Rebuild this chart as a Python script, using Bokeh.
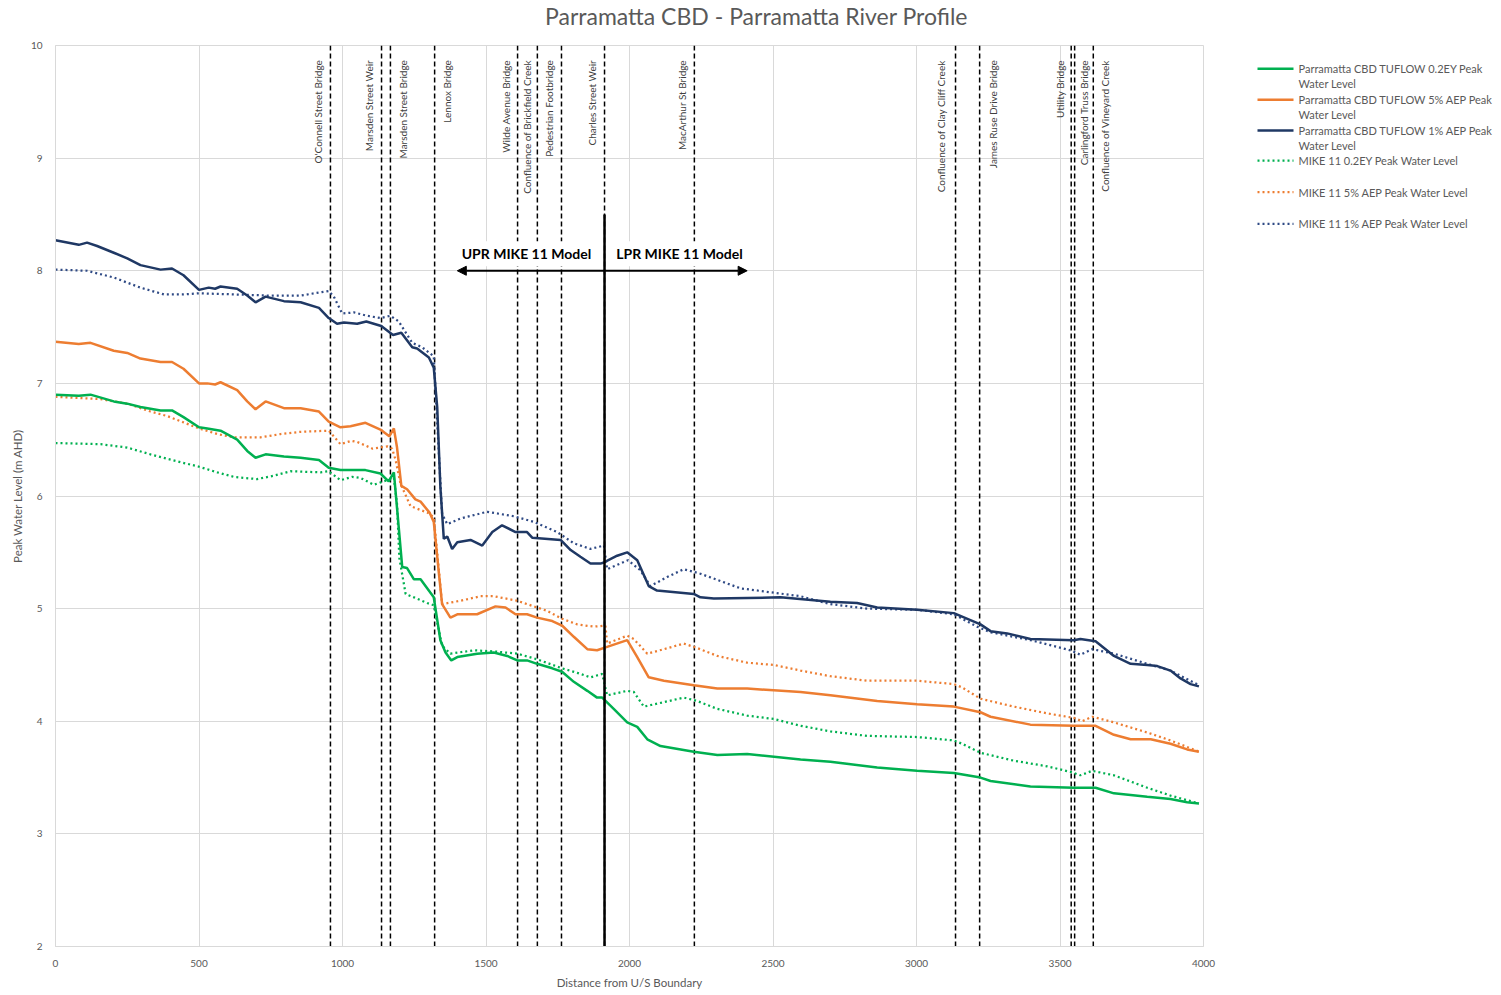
import math
import textwrap
from bokeh.plotting import figure
from bokeh.models import Range1d, FixedTicker, ColumnDataSource, Arrow, NormalHead
from bokeh.layouts import row, column
from bokeh.embed import file_html
from bokeh.resources import INLINE
from bokeh.core.properties import value

# ---------------- data ----------------
title_text = "Parramatta CBD - Parramatta River Profile"
x_label = "Distance from U/S Boundary"
y_label = "Peak Water Level (m AHD)"
x_ticks = [0, 500, 1000, 1500, 2000, 2500, 3000, 3500, 4000]
y_ticks = [2, 3, 4, 5, 6, 7, 8, 9, 10]

series_names = [
    "Parramatta CBD TUFLOW 0.2EY Peak Water Level",
    "Parramatta CBD TUFLOW 5% AEP Peak Water Level",
    "Parramatta CBD TUFLOW 1% AEP Peak Water Level",
    "MIKE 11 0.2EY Peak Water Level",
    "MIKE 11 5% AEP Peak Water Level",
    "MIKE 11 1% AEP Peak Water Level",
]

tuflow_1_x = [0, 81, 110, 145, 203, 250, 296, 366, 406, 446, 500, 534, 556, 575, 633, 668, 697, 732, 796, 854,
              918, 952, 981, 1005, 1051, 1083, 1135, 1176, 1205, 1243, 1260, 1301, 1318, 1330, 1341, 1353, 1365,
              1382, 1400, 1446, 1487, 1522, 1556, 1603, 1643, 1661, 1760, 1795, 1829, 1864, 1899, 1911, 1957,
              1992, 2027, 2067, 2096, 2224, 2247, 2294, 2526, 2700, 2793, 2863, 3002, 3130, 3223, 3258, 3316,
              3397, 3548, 3571, 3624, 3688, 3746, 3804, 3839, 3885, 3920, 3955, 3984]
tuflow_1_y = [8.27, 8.23, 8.25, 8.22, 8.16, 8.11, 8.05, 8.01, 8.02, 7.96, 7.83, 7.85, 7.84, 7.86, 7.84, 7.78,
              7.72, 7.77, 7.73, 7.72, 7.67, 7.58, 7.53, 7.54, 7.53, 7.55, 7.51, 7.43, 7.45, 7.32, 7.31, 7.23,
              7.14, 6.79, 6.08, 5.62, 5.64, 5.53, 5.59, 5.61, 5.56, 5.68, 5.74, 5.68, 5.68, 5.63, 5.61, 5.52,
              5.46, 5.40, 5.40, 5.41, 5.47, 5.50, 5.43, 5.20, 5.16, 5.13, 5.10, 5.09, 5.10, 5.06, 5.05, 5.01,
              4.99, 4.96, 4.86, 4.80, 4.78, 4.73, 4.72, 4.73, 4.71, 4.58, 4.51, 4.50, 4.49, 4.45, 4.38, 4.33, 4.31]

tuflow_5_x = [0, 81, 122, 203, 250, 296, 366, 406, 446, 500, 529, 556, 575, 633, 668, 697, 732, 796, 854, 918,
              952, 993, 1028, 1080, 1132, 1163, 1179, 1190, 1205, 1225, 1254, 1272, 1304, 1318, 1336, 1347,
              1376, 1400, 1469, 1533, 1568, 1603, 1643, 1678, 1731, 1765, 1806, 1853, 1887, 1922, 1992, 2027,
              2067, 2120, 2224, 2306, 2410, 2596, 2700, 2863, 3002, 3130, 3223, 3258, 3397, 3548, 3624, 3688,
              3746, 3816, 3885, 3943, 3984]
tuflow_5_y = [7.37, 7.35, 7.36, 7.29, 7.27, 7.22, 7.19, 7.19, 7.13, 7.00, 7.00, 6.99, 7.01, 6.94, 6.84, 6.77,
              6.84, 6.78, 6.78, 6.75, 6.66, 6.61, 6.62, 6.65, 6.59, 6.53, 6.60, 6.43, 6.09, 6.06, 5.97, 5.95,
              5.85, 5.77, 5.31, 5.04, 4.92, 4.95, 4.95, 5.02, 5.01, 4.95, 4.95, 4.92, 4.89, 4.85, 4.75, 4.64,
              4.63, 4.66, 4.72, 4.57, 4.39, 4.36, 4.32, 4.29, 4.29, 4.26, 4.23, 4.18, 4.15, 4.13, 4.08, 4.04,
              3.97, 3.96, 3.96, 3.88, 3.84, 3.84, 3.80, 3.75, 3.73]

tuflow_02_x = [0, 81, 122, 203, 250, 296, 366, 406, 446, 500, 529, 575, 633, 668, 697, 732, 796, 854, 918, 952,
               993, 1028, 1080, 1132, 1161, 1179, 1196, 1208, 1225, 1249, 1272, 1295, 1318, 1341, 1359, 1379,
               1400, 1469, 1527, 1574, 1609, 1643, 1678, 1731, 1765, 1806, 1853, 1887, 1905, 1945, 1992, 2027,
               2062, 2108, 2224, 2306, 2410, 2596, 2700, 2863, 3002, 3130, 3223, 3258, 3397, 3548, 3624, 3688,
               3804, 3885, 3943, 3984]
tuflow_02_y = [6.90, 6.89, 6.90, 6.84, 6.82, 6.79, 6.76, 6.76, 6.70, 6.61, 6.60, 6.58, 6.50, 6.40, 6.34, 6.37,
               6.35, 6.34, 6.32, 6.25, 6.23, 6.23, 6.23, 6.20, 6.13, 6.21, 5.72, 5.37, 5.36, 5.26, 5.26, 5.18,
               5.10, 4.72, 4.61, 4.54, 4.57, 4.60, 4.61, 4.58, 4.54, 4.54, 4.51, 4.47, 4.44, 4.35, 4.27, 4.21,
               4.21, 4.11, 3.99, 3.95, 3.84, 3.78, 3.73, 3.70, 3.71, 3.66, 3.64, 3.59, 3.56, 3.54, 3.50, 3.47,
               3.42, 3.41, 3.41, 3.36, 3.33, 3.31, 3.28, 3.27]

mike_1_x = [0, 110, 203, 296, 378, 446, 500, 621, 737, 854, 952, 970, 999, 1040, 1086, 1132, 1167, 1196, 1243,
            1278, 1318, 1336, 1347, 1365, 1411, 1504, 1597, 1667, 1748, 1806, 1864, 1911, 1922, 1995, 2038,
            2073, 2131, 2189, 2247, 2387, 2596, 2700, 2828, 3002, 3130, 3211, 3258, 3397, 3537, 3571, 3612,
            3688, 3804, 3885, 3984]
mike_1_y = [8.01, 8.00, 7.94, 7.85, 7.79, 7.79, 7.80, 7.79, 7.78, 7.78, 7.82, 7.77, 7.62, 7.63, 7.60, 7.58,
            7.60, 7.55, 7.36, 7.32, 7.24, 6.37, 5.84, 5.75, 5.80, 5.86, 5.82, 5.77, 5.68, 5.58, 5.53, 5.56,
            5.35, 5.43, 5.34, 5.20, 5.28, 5.35, 5.31, 5.18, 5.11, 5.04, 5.00, 4.99, 4.95, 4.84, 4.79, 4.72,
            4.63, 4.59, 4.64, 4.60, 4.51, 4.45, 4.32]

mike_5_x = [0, 157, 250, 331, 389, 500, 564, 621, 714, 784, 854, 952, 993, 1031, 1051, 1105, 1158, 1173, 1185,
            1202, 1237, 1298, 1318, 1336, 1347, 1411, 1481, 1527, 1609, 1678, 1713, 1765, 1818, 1876, 1916,
            1922, 1992, 2015, 2062, 2120, 2189, 2236, 2306, 2410, 2503, 2596, 2700, 2828, 3002, 3130, 3159,
            3223, 3339, 3455, 3548, 3577, 3612, 3688, 3804, 3885, 3984]
mike_5_y = [6.88, 6.86, 6.82, 6.75, 6.71, 6.60, 6.55, 6.52, 6.52, 6.55, 6.57, 6.58, 6.46, 6.49, 6.48, 6.42,
            6.44, 6.42, 6.32, 6.11, 5.91, 5.85, 5.81, 5.34, 5.04, 5.07, 5.11, 5.11, 5.07, 5.01, 4.98, 4.91,
            4.86, 4.84, 4.85, 4.69, 4.76, 4.73, 4.60, 4.64, 4.69, 4.65, 4.58, 4.52, 4.50, 4.45, 4.40, 4.36,
            4.36, 4.33, 4.30, 4.20, 4.13, 4.07, 4.03, 4.00, 4.04, 3.99, 3.90, 3.83, 3.73]

mike_02_x = [0, 157, 250, 331, 389, 500, 564, 621, 702, 760, 819, 923, 952, 993, 1034, 1063, 1109, 1155, 1179,
             1190, 1198, 1220, 1249, 1295, 1318, 1347, 1376, 1458, 1527, 1609, 1678, 1765, 1818, 1864, 1905,
             1922, 1992, 2015, 2050, 2120, 2189, 2236, 2306, 2410, 2503, 2596, 2700, 2828, 3002, 3130, 3159,
             3223, 3339, 3455, 3537, 3571, 3612, 3688, 3804, 3885, 3984]
mike_02_y = [6.47, 6.46, 6.43, 6.37, 6.33, 6.26, 6.21, 6.17, 6.15, 6.18, 6.22, 6.21, 6.22, 6.14, 6.17, 6.16,
             6.10, 6.14, 6.16, 5.93, 5.45, 5.13, 5.10, 5.05, 5.03, 4.67, 4.60, 4.63, 4.62, 4.60, 4.55, 4.47,
             4.43, 4.39, 4.42, 4.23, 4.27, 4.26, 4.13, 4.17, 4.21, 4.18, 4.11, 4.05, 4.02, 3.96, 3.91, 3.87,
             3.86, 3.83, 3.80, 3.72, 3.65, 3.60, 3.55, 3.52, 3.56, 3.52, 3.41, 3.34, 3.27]

structure_names = ["O'Connell Street Bridge", "Marsden Street Weir", "Marsden Street Bridge", "Lennox Bridge",
                   "Wilde Avenue Bridge", "Confluence of Brickfield Creek", "Pedestrian Footbridge",
                   "Charles Street Weir", "MacArthur St Bridge", "Confluence of Clay Cliff Creek",
                   "James Ruse Drive Bridge", "Utility Bridge", "Carlingford Truss Bridge",
                   "Confluence of Vineyard Creek"]
structure_x = [958, 1136, 1167, 1321, 1610, 1679, 1763, 1913, 2226, 3136, 3220, 3539, 3551, 3616]

model_boundary_x = 1913
model_boundary_top = 8.5
upr_text = "UPR MIKE 11 Model"
lpr_text = "LPR MIKE 11 Model"
upr_text_x = 1641
lpr_text_x = 2174
model_text_y = 8.15
arrow_x_start = 1400
arrow_x_end = 2410
arrow_y = 8.0

# ---------------- styles ----------------
FONT = "Lato"
GREY = "#595959"
GRID = "#D9D9D9"
GREEN = "#00B050"
ORANGE = "#ED7D31"
NAVY = "#1F3864"
NAVY_DOT = "#2F4A85"
label_offsets = [-12, -13, 13, 12, -12, -10, -12, -13, -12, -15, 13, -11, 9, 12]
label_top_y = 9.87
FRAME_W, FRAME_H = 1148, 901
LEFT, TOP, BOTTOM = 55, 8, 48
TITLE_H = 37
LEG_W = 270
RIGHT = 20

# ---------------- title strip ----------------
tfig = figure(x_range=Range1d(0, FRAME_W), y_range=Range1d(TITLE_H, 0),
              frame_width=FRAME_W, frame_height=TITLE_H,
              min_border_left=LEFT, min_border_right=RIGHT + LEG_W, min_border_top=0, min_border_bottom=0,
              x_axis_location=None, y_axis_location=None, output_backend="svg", toolbar_location=None)
tfig.grid.visible = False
tfig.outline_line_color = None
tfig.background_fill_color = "white"
tfig.border_fill_color = "white"
tfig.text(x=[701], y=[15], text=[title_text], text_align="center", text_baseline="middle",
          text_font=value(FONT), text_font_size="23px", text_color=GREY)

# ---------------- main chart ----------------
p = figure(x_range=Range1d(0, 4000), y_range=Range1d(2, 10),
           frame_width=FRAME_W, frame_height=FRAME_H,
           min_border_left=LEFT, min_border_right=RIGHT, min_border_top=TOP, min_border_bottom=BOTTOM,
           output_backend="svg", toolbar_location=None)
p.background_fill_color = "white"
p.border_fill_color = "white"
p.outline_line_color = GRID

p.xaxis.ticker = FixedTicker(ticks=x_ticks)
p.yaxis.ticker = FixedTicker(ticks=y_ticks)
p.xgrid.ticker = FixedTicker(ticks=x_ticks)
p.ygrid.ticker = FixedTicker(ticks=y_ticks)
p.grid.grid_line_color = GRID
p.grid.grid_line_width = 1
for ax in (p.xaxis[0], p.yaxis[0]):
    ax.axis_line_color = GRID
    ax.major_tick_line_color = None
    ax.minor_tick_line_color = None
    ax.major_label_text_color = GREY
    ax.major_label_text_font = FONT
    ax.major_label_text_font_size = "10px"
    ax.axis_label_text_color = GREY
    ax.axis_label_text_font = FONT
    ax.axis_label_text_font_size = "11.5px"
    ax.axis_label_text_font_style = "normal"
p.xaxis.axis_label = x_label
p.yaxis.axis_label = y_label
p.xaxis.major_label_standoff = 7
p.xaxis.axis_label_standoff = 6
p.yaxis.major_label_standoff = 7
p.yaxis.axis_label_standoff = 4

# structure dashed lines
for sx in structure_x:
    p.line([sx, sx], [2, 10], line_color="black", line_width=1.5, line_dash="5 3")

# structure labels
src = ColumnDataSource(dict(x=structure_x, y=[label_top_y] * len(structure_x),
                            text=structure_names, off=label_offsets))
p.text(x="x", y="y", text="text", x_offset="off", source=src, angle=math.pi / 2,
       text_align="right", text_baseline="middle", text_font=value(FONT),
       text_font_size="10px", text_color="#404040")

# series
dot_w = 2.25
dot_dash = "2 3"
p.line(mike_02_x, mike_02_y, line_color=GREEN, line_width=dot_w, line_dash=dot_dash)
p.line(mike_5_x, mike_5_y, line_color=ORANGE, line_width=dot_w, line_dash=dot_dash)
p.line(mike_1_x, mike_1_y, line_color=NAVY_DOT, line_width=dot_w, line_dash=dot_dash)
p.line(tuflow_02_x, tuflow_02_y, line_color=GREEN, line_width=2.5)
p.line(tuflow_5_x, tuflow_5_y, line_color=ORANGE, line_width=2.5)
p.line(tuflow_1_x, tuflow_1_y, line_color=NAVY, line_width=2.5)

# model boundary annotation
p.text(x=[upr_text_x, lpr_text_x], y=[model_text_y, model_text_y], text=[upr_text, lpr_text],
       text_align="center", text_baseline="middle", text_font=value(FONT), text_font_size="14px",
       text_font_style="bold", text_color="black", background_fill_color="white", padding=4)
p.line([model_boundary_x, model_boundary_x], [2, model_boundary_top], line_color="black", line_width=2.5)
p.add_layout(Arrow(start=NormalHead(size=9, fill_color="black", line_color="black"),
                   end=NormalHead(size=9, fill_color="black", line_color="black"),
                   x_start=arrow_x_start, x_end=arrow_x_end, y_start=arrow_y, y_end=arrow_y,
                   line_width=2, line_color="black"))

# ---------------- legend panel ----------------
leg = figure(x_range=Range1d(0, LEG_W), y_range=Range1d(FRAME_H, 0), frame_width=LEG_W, frame_height=FRAME_H,
             min_border_left=0, min_border_right=0, min_border_top=TOP, min_border_bottom=BOTTOM,
             x_axis_location=None, y_axis_location=None,
             output_backend="svg", toolbar_location=None)
leg.grid.visible = False
leg.outline_line_color = None
leg.background_fill_color = "white"
leg.border_fill_color = "white"
leg_colors = [GREEN, ORANGE, NAVY, GREEN, ORANGE, NAVY_DOT]
leg_dash = ["solid", "solid", "solid", dot_dash, dot_dash, dot_dash]
leg_y = [23.3, 54.3, 85, 115, 146.7, 178.3]
tx, ty, tt = [], [], []
for name, c, d, yy in zip(series_names, leg_colors, leg_dash, leg_y):
    leg.line([34, 70], [yy, yy], line_color=c, line_width=2.5 if d == "solid" else dot_w, line_dash=d)
    for i, part in enumerate(textwrap.wrap(name, 34)):
        tx.append(75)
        ty.append(yy + i * 15)
        tt.append(part)
leg.text(x=tx, y=ty, text=tt, text_align="left", text_baseline="middle", text_font=value(FONT),
         text_font_size="11px", text_color=GREY)

layout = column(tfig, row(p, leg))
open("out.html", "w").write(file_html(layout, INLINE))
